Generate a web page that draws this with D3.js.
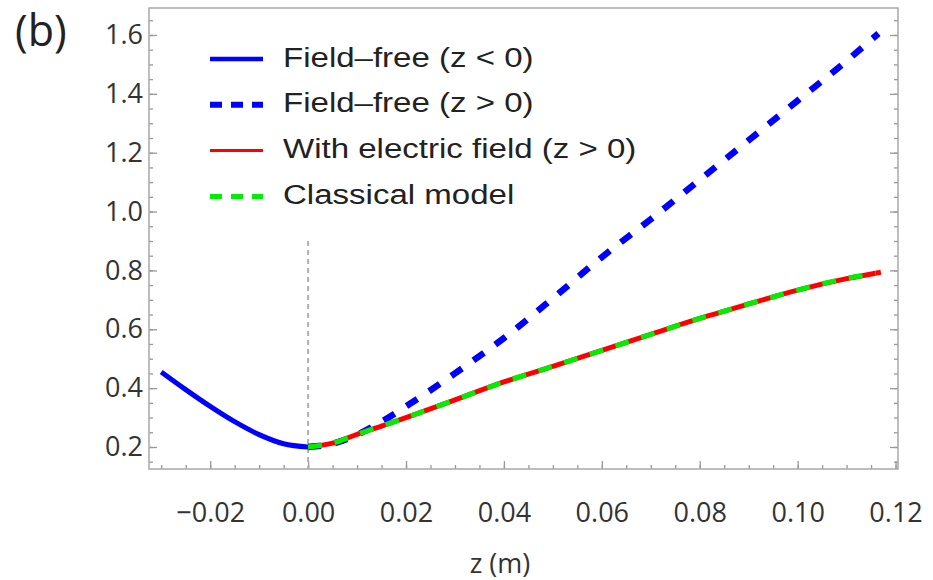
<!DOCTYPE html>
<html>
<head>
<meta charset="utf-8">
<script src="https://cdn.jsdelivr.net/npm/d3@7.9.0/dist/d3.min.js"></script>
<style>
  body { margin: 0; background: #fff; }
  svg { display: block; }
  .tick text { font-family: "Open Sans", sans-serif; font-size: 27px; fill: #333; }
  .legend text { font-family: "Liberation Sans", Arial, sans-serif; font-size: 28px; fill: #222; }
</style>
</head>
<body>
<svg id="chart" width="933" height="580"></svg>
<script>
// beam width vs z
const zNeg = [-0.03, -0.025, -0.02, -0.015, -0.01, -0.005, 0];
const wNeg = [0.455, 0.395, 0.338, 0.286, 0.242, 0.211, 0.2];

const zFree = [0, 0.005, 0.01, 0.015, 0.02, 0.03, 0.04, 0.05, 0.06, 0.07, 0.08, 0.09, 0.10, 0.11, 0.1165];
const wFree = [0.2, 0.211, 0.242, 0.286, 0.338, 0.45, 0.57, 0.705, 0.845, 0.974, 1.108, 1.242, 1.377, 1.512, 1.605];

const zField = [0, 0.005, 0.01, 0.015, 0.02, 0.03, 0.04, 0.05, 0.06, 0.07, 0.08, 0.09, 0.10, 0.11, 0.117];
const wField = [0.2, 0.213, 0.243, 0.271, 0.3, 0.36, 0.421, 0.474, 0.528, 0.583, 0.637, 0.686, 0.733, 0.772, 0.794];

const zClassical = [0, 0.005, 0.01, 0.015, 0.02, 0.03, 0.04, 0.05, 0.06, 0.07, 0.08, 0.09, 0.10, 0.108, 0.116];
const wClassical = [0.2, 0.213, 0.243, 0.271, 0.3, 0.36, 0.421, 0.474, 0.528, 0.583, 0.637, 0.686, 0.733, 0.766, 0.79];

const xTicks = [-0.02, 0, 0.02, 0.04, 0.06, 0.08, 0.10, 0.12];
const yTicks = [0.2, 0.4, 0.6, 0.8, 1.0, 1.2, 1.4, 1.6];
const legendLabels = ["Field\u2013free (z < 0)", "Field\u2013free (z > 0)", "With electric field (z > 0)", "Classical model"];

const svg = d3.select("#chart");
const m = { left: 149, right: 898, top: 8, bottom: 469 };

let x = d3.scaleLinear().domain([-0.0325, 0.1205]).range([m.left, m.right]);
let y = d3.scaleLinear().domain([0.1252, 1.6917]).range([m.bottom, m.top]);

// minor ticks
let xMinor = d3.range(-0.03, 0.1201, 0.005);
let yMinor = d3.range(0.15, 1.66, 0.05);

svg.append("g").attr("transform", `translate(0,${m.bottom})`)
  .call(d3.axisBottom(x).tickValues(xMinor).tickSize(-4).tickFormat(""));
svg.append("g").attr("transform", `translate(${m.left},0)`)
  .call(d3.axisLeft(y).tickValues(yMinor).tickSize(-4).tickFormat(""));
svg.append("g").attr("transform", `translate(${m.right},0)`)
  .call(d3.axisRight(y).tickValues(yMinor).tickSize(-4).tickFormat(""));

svg.append("g").attr("transform", `translate(0,${m.bottom})`)
  .call(d3.axisBottom(x).tickValues(xTicks).tickSize(-8).tickPadding(34)
    .tickFormat(d => d3.format(".2f")(d).replace("-", "\u2212")));
svg.append("g").attr("transform", `translate(${m.left},0)`)
  .call(d3.axisLeft(y).tickValues(yTicks).tickSize(-8).tickPadding(6).tickFormat(d3.format(".1f")));
svg.append("g").attr("transform", `translate(${m.right},0)`)
  .call(d3.axisRight(y).tickValues(yTicks).tickSize(-8).tickFormat(""));

svg.selectAll(".domain").remove();
svg.selectAll(".tick line").attr("stroke", "#999").attr("stroke-width", 1.3);

svg.append("rect")
  .attr("x", m.left).attr("y", m.top)
  .attr("width", m.right - m.left).attr("height", m.bottom - m.top)
  .attr("fill", "none").attr("stroke", "#a8a8a8").attr("stroke-width", 1.5);

// z = 0 guide
svg.append("line")
  .attr("x1", x(0)).attr("x2", x(0))
  .attr("y1", y(0.9)).attr("y2", m.bottom)
  .attr("stroke", "#b0b0b0").attr("stroke-width", 2)
  .attr("stroke-dasharray", "5,4");

let line = d3.line().x(d => x(d[0])).y(d => y(d[1])).curve(d3.curveMonotoneX);

svg.append("path").datum(d3.zip(zNeg, wNeg))
  .attr("d", line).attr("fill", "none").attr("stroke", "#0000ff").attr("stroke-width", 5);

svg.append("path").datum(d3.zip(zFree, wFree))
  .attr("d", line).attr("fill", "none").attr("stroke", "#0000ff").attr("stroke-width", 6.5)
  .attr("stroke-dasharray", "13,14");

svg.append("path").datum(d3.zip(zField, wField))
  .attr("d", line).attr("fill", "none").attr("stroke", "#ff0000").attr("stroke-width", 5);

svg.append("path").datum(d3.zip(zClassical, wClassical))
  .attr("d", line).attr("fill", "none").attr("stroke", "#00ee00").attr("stroke-width", 5)
  .attr("stroke-dasharray", "14,13");

// legend
let legendStyles = [
  { color: "#0000ff", width: 4.5, dash: null },
  { color: "#0000ff", width: 6, dash: "12,9" },
  { color: "#ff0000", width: 3, dash: null },
  { color: "#00ee00", width: 5, dash: "12,9" }
];
let legend = svg.append("g").attr("class", "legend");
legendLabels.forEach((label, i) => {
  let base = 66.5 + i * 45.8;
  let s = legendStyles[i];
  legend.append("line")
    .attr("x1", 210).attr("x2", 263)
    .attr("y1", base - 7.5).attr("y2", base - 7.5)
    .attr("stroke", s.color).attr("stroke-width", s.width)
    .attr("stroke-dasharray", s.dash);
  legend.append("text")
    .attr("transform", `translate(283,${base}) scale(1.18,1)`)
    .text(label);
});

svg.append("text")
  .attr("x", 500).attr("y", 573)
  .attr("text-anchor", "middle")
  .style("font-family", "Open Sans, sans-serif").style("font-size", "27px").style("fill", "#333")
  .text("z (m)");

svg.append("text")
  .attr("x", 15).attr("y", 46)
  .style("font-family", "Open Sans, sans-serif").style("font-size", "43px").style("fill", "#222")
  .text("(b)");
</script>
</body>
</html>
